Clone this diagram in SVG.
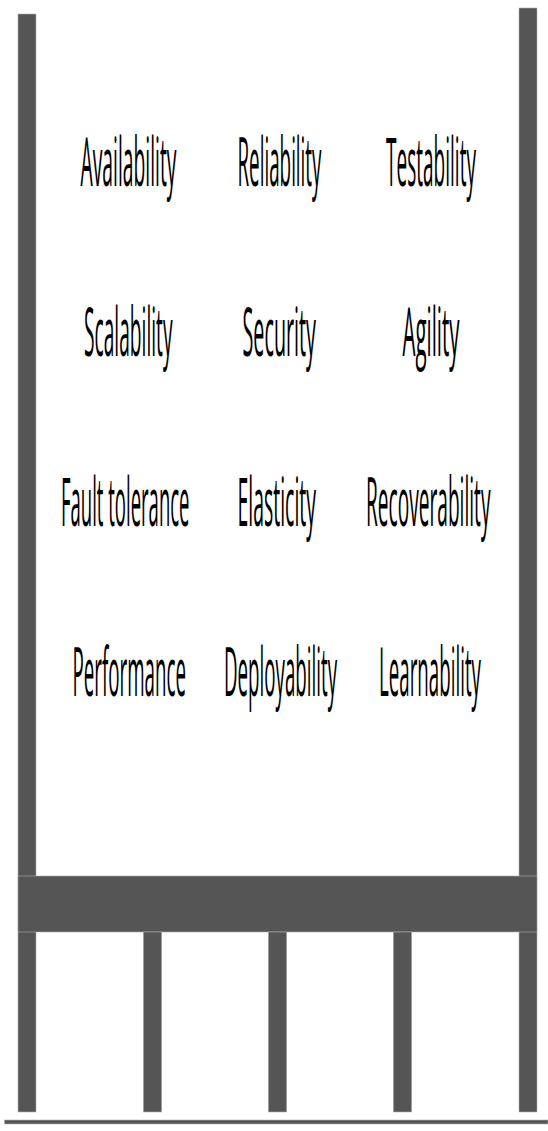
<svg xmlns="http://www.w3.org/2000/svg" width="548" height="1131" viewBox="0 0 548 1131">
<style>
.bar{fill:#555555;stroke:#b0b0b0;stroke-width:0.6}
.lbl{font-family:"Open Sans","DejaVu Sans",sans-serif;font-size:68px;fill:#000000;text-anchor:middle}
</style>
<rect width="548" height="1131" fill="#ffffff"/>
<g id="structure">
<rect class="bar" x="18" y="14" width="18" height="1098"/>
<rect class="bar" x="519" y="8" width="18" height="1104"/>
<rect class="bar" x="18" y="876" width="519" height="56"/>
<rect class="bar" x="143.3" y="932" width="18.4" height="180"/>
<rect class="bar" x="268.3" y="932" width="18.4" height="180"/>
<rect class="bar" x="393.3" y="932" width="18.4" height="180"/>
<rect class="bar" x="4.5" y="1120" width="543.5" height="4"/>
</g>
<g id="availability"><text class="lbl" transform="translate(128.5,186) scale(0.28,1)" x="0" y="0" textLength="342.9" lengthAdjust="spacingAndGlyphs">Availability</text></g>
<g id="reliability"><text class="lbl" transform="translate(279.5,186) scale(0.28,1)" x="0" y="0" textLength="300" lengthAdjust="spacingAndGlyphs">Reliability</text></g>
<g id="testability"><text class="lbl" transform="translate(431,186) scale(0.28,1)" x="0" y="0" textLength="321.4" lengthAdjust="spacingAndGlyphs">Testability</text></g>
<g id="scalability"><text class="lbl" transform="translate(128.25,356) scale(0.28,1)" x="0" y="0" textLength="316.1" lengthAdjust="spacingAndGlyphs">Scalability</text></g>
<g id="security"><text class="lbl" transform="translate(279.25,356) scale(0.28,1)" x="0" y="0" textLength="262.5" lengthAdjust="spacingAndGlyphs">Security</text></g>
<g id="agility"><text class="lbl" transform="translate(431,356) scale(0.28,1)" x="0" y="0" textLength="203.6" lengthAdjust="spacingAndGlyphs">Agility</text></g>
<g id="fault-tolerance"><text class="lbl" transform="translate(125.25,526) scale(0.28,1)" x="0" y="0" textLength="458.9" lengthAdjust="spacingAndGlyphs">Fault tolerance</text></g>
<g id="elasticity"><text class="lbl" transform="translate(276.75,526) scale(0.28,1)" x="0" y="0" textLength="280.4" lengthAdjust="spacingAndGlyphs">Elasticity</text></g>
<g id="recoverability"><text class="lbl" transform="translate(428.25,526) scale(0.28,1)" x="0" y="0" textLength="444.6" lengthAdjust="spacingAndGlyphs">Recoverability</text></g>
<g id="performance"><text class="lbl" transform="translate(129.25,696) scale(0.28,1)" x="0" y="0" textLength="405.4" lengthAdjust="spacingAndGlyphs">Performance</text></g>
<g id="deployability"><text class="lbl" transform="translate(280.5,696) scale(0.28,1)" x="0" y="0" textLength="403.6" lengthAdjust="spacingAndGlyphs">Deployability</text></g>
<g id="learnability"><text class="lbl" transform="translate(430,696) scale(0.28,1)" x="0" y="0" textLength="364.3" lengthAdjust="spacingAndGlyphs">Learnability</text></g>
<g id="connectors"></g>
</svg>
